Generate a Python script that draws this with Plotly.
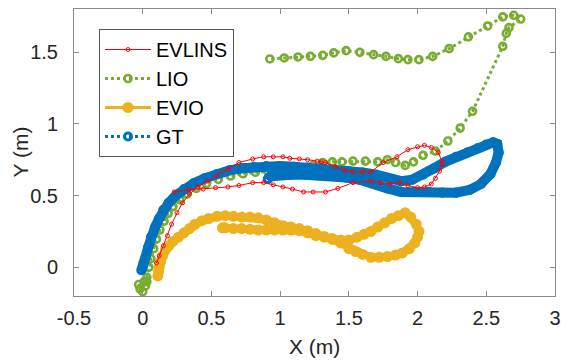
import plotly.graph_objects as go

# ---------------- data ----------------
gt_x = [-0.01, 0.0, 0.005, 0.02, 0.04, 0.06, 0.09, 0.12, 0.15, 0.19, 0.24, 0.30, 0.37, 0.45,
        0.54, 0.63, 0.72, 0.81, 0.90, 1.00, 1.10, 1.20, 1.30, 1.40, 1.50, 1.60, 1.70, 1.80,
        1.88, 1.96, 2.04, 2.12, 2.20, 2.28, 2.36, 2.44, 2.50, 2.55, 2.58, 2.59, 2.57, 2.53,
        2.46, 2.38, 2.28, 2.18, 2.08, 1.98, 1.88, 1.78, 1.68, 1.58, 1.48, 1.38, 1.28, 1.18,
        1.08, 0.98, 0.93, 0.91]
gt_y = [-0.02, 0.0, 0.03, 0.07, 0.14, 0.21, 0.28, 0.34, 0.40, 0.45, 0.50, 0.545, 0.585, 0.62,
        0.65, 0.675, 0.69, 0.70, 0.705, 0.705, 0.70, 0.695, 0.69, 0.68, 0.67, 0.66, 0.645, 0.615,
        0.60, 0.61, 0.645, 0.69, 0.735, 0.77, 0.80, 0.83, 0.855, 0.87, 0.86, 0.80, 0.73, 0.65,
        0.58, 0.54, 0.52, 0.52, 0.525, 0.525, 0.525, 0.55, 0.585, 0.61, 0.625, 0.635, 0.64, 0.645,
        0.645, 0.645, 0.635, 0.615]

lio_x = [0.0, -0.03, 0.02, -0.02, 0.01, 0.03, 0.03, 0.045, 0.06, 0.08, 0.10, 0.125, 0.156, 0.185,
         0.22, 0.27, 0.322, 0.39, 0.464, 0.55, 0.64, 0.73, 0.82, 0.91, 1.00, 1.08, 1.16, 1.24,
         1.31, 1.38, 1.45, 1.53, 1.62, 1.71, 1.78, 1.84, 1.91, 1.97, 2.04, 2.13, 2.22, 2.31,
         2.40, 2.62, 2.645, 2.665, 2.75, 2.70, 2.62, 2.51, 2.37, 2.23, 2.11, 2.01, 1.93, 1.86,
         1.77, 1.68, 1.58, 1.48, 1.39, 1.31, 1.22, 1.13, 1.03, 0.925]
lio_y = [-0.17, -0.12, -0.13, -0.15, -0.10, -0.10, -0.07, 0.0, 0.06, 0.13, 0.196, 0.26, 0.322, 0.375,
         0.423, 0.47, 0.51, 0.55, 0.583, 0.612, 0.636, 0.652, 0.662, 0.668, 0.672, 0.678, 0.69, 0.71,
         0.73, 0.735, 0.735, 0.74, 0.74, 0.735, 0.75, 0.73, 0.71, 0.735, 0.78, 0.81, 0.88, 0.97,
         1.087, 1.54, 1.63, 1.67, 1.73, 1.756, 1.745, 1.682, 1.606, 1.524, 1.47, 1.447, 1.447, 1.454,
         1.47, 1.482, 1.498, 1.51, 1.494, 1.477, 1.47, 1.466, 1.459, 1.452]

evio_x = [0.11, 0.115, 0.12, 0.13, 0.145, 0.165, 0.19, 0.22, 0.26, 0.30, 0.34, 0.38, 0.43, 0.48,
          0.54, 0.60, 0.66, 0.72, 0.78, 0.84, 0.90, 0.96, 1.02, 1.08, 1.14, 1.20, 1.26, 1.32,
          1.38, 1.44, 1.50, 1.55, 1.60, 1.66, 1.72, 1.78, 1.84, 1.89, 1.94, 1.98, 2.00, 2.01,
          1.99, 1.95, 1.91, 1.86, 1.81, 1.76, 1.71, 1.66, 1.61, 1.56, 1.50, 1.44, 1.38, 1.32,
          1.26, 1.20, 1.14, 1.08, 1.02, 0.96, 0.90, 0.84, 0.78, 0.72, 0.66, 0.60, 0.58]
evio_y = [-0.06, -0.03, 0.0, 0.04, 0.08, 0.12, 0.15, 0.18, 0.21, 0.24, 0.27, 0.30, 0.325, 0.34,
          0.355, 0.36, 0.355, 0.35, 0.35, 0.345, 0.33, 0.31, 0.29, 0.28, 0.27, 0.255, 0.235, 0.215,
          0.195, 0.17, 0.13, 0.11, 0.09, 0.07, 0.07, 0.075, 0.085, 0.10, 0.13, 0.17, 0.21, 0.25,
          0.30, 0.35, 0.38, 0.36, 0.34, 0.31, 0.28, 0.25, 0.23, 0.21, 0.19, 0.19, 0.20, 0.21,
          0.22, 0.24, 0.255, 0.26, 0.26, 0.26, 0.26, 0.26, 0.265, 0.27, 0.27, 0.275, 0.275]

evl_x = [0.10, 0.12, 0.15, 0.18, 0.21, 0.25, 0.29, 0.34, 0.40, 0.47, 0.54, 0.62, 0.70, 0.80,
         0.88, 0.95, 1.02, 1.07, 1.14, 1.20, 1.27, 1.30, 1.33, 1.40, 1.47, 1.53, 1.60, 1.66,
         1.75, 1.85, 1.93, 2.00, 2.05, 2.10, 2.15, 2.18, 2.18, 2.16, 2.13, 2.10, 2.05, 2.00,
         1.93, 1.87, 1.80, 1.73, 1.66, 1.53, 1.42, 1.33, 1.24, 1.17, 1.09, 1.02, 0.95, 0.88,
         0.80, 0.70, 0.62, 0.53, 0.44, 0.335, 0.23]
evl_y = [0.03, 0.08, 0.15, 0.22, 0.30, 0.38, 0.45, 0.51, 0.56, 0.60, 0.64, 0.68, 0.73, 0.755,
         0.77, 0.77, 0.77, 0.76, 0.755, 0.75, 0.74, 0.735, 0.73, 0.70, 0.675, 0.665, 0.665, 0.665,
         0.73, 0.77, 0.82, 0.84, 0.85, 0.835, 0.80, 0.735, 0.715, 0.67, 0.62, 0.58, 0.56, 0.555,
         0.57, 0.59, 0.58, 0.59, 0.60, 0.59, 0.55, 0.525, 0.525, 0.525, 0.545, 0.56, 0.575, 0.59,
         0.59, 0.57, 0.56, 0.555, 0.545, 0.54, 0.525]

x_ticks = [-0.5, 0, 0.5, 1, 1.5, 2, 2.5, 3]
y_ticks = [0, 0.5, 1, 1.5]

RED = "#FF0000"
GREEN = "#77AC30"
YELLOW = "#EDB120"
BLUE = "#0072BD"
TXT = "#262626"
AX = "#8a8a8a"
FONT = "Liberation Sans, Arial, sans-serif"

fig = go.Figure()

# LIO (bottom layer)
fig.add_trace(go.Scatter(
    x=lio_x, y=lio_y, name="LIO", mode="lines+markers", legendrank=2,
    line=dict(color=GREEN, width=3, dash="dot"),
    marker=dict(symbol="circle-open", size=7, color=GREEN, line=dict(width=2.6, color=GREEN)),
))

# EVIO
fig.add_trace(go.Scatter(
    x=evio_x, y=evio_y, mode="lines", showlegend=False, hoverinfo="skip",
    line=dict(color=YELLOW, width=8),
))
fig.add_trace(go.Scatter(
    x=evio_x, y=evio_y, name="EVIO", mode="lines+markers", legendrank=3,
    line=dict(color=YELLOW, width=3),
    marker=dict(symbol="circle", size=11, color=YELLOW),
))

# GT
fig.add_trace(go.Scatter(
    x=gt_x, y=gt_y, mode="lines", showlegend=False, hoverinfo="skip",
    line=dict(color=BLUE, width=10),
))
fig.add_trace(go.Scatter(
    x=gt_x, y=gt_y, name="GT", mode="lines+markers", legendrank=4,
    line=dict(color=BLUE, width=3, dash="dot"),
    marker=dict(symbol="circle-open", size=7, color=BLUE, line=dict(width=3.2, color=BLUE)),
))

# EVLINS (top layer)
fig.add_trace(go.Scatter(
    x=evl_x, y=evl_y, name="EVLINS", mode="lines+markers", legendrank=1,
    line=dict(color=RED, width=1),
    marker=dict(symbol="circle-open", size=4, color=RED, line=dict(width=1, color=RED)),
))

axis_common = dict(
    showline=True, linecolor=AX, linewidth=1, mirror="ticks",
    ticks="inside", ticklen=5, tickcolor=AX, tickwidth=1,
    showgrid=False, zeroline=False, automargin=False,
    tickfont=dict(family=FONT, size=20, color=TXT),
)

L, R, T, B = 74, 6, 9, 64
PW, PH = 561 - L - R, 360 - T - B

fig.update_layout(
    width=561, height=360,
    margin=dict(l=L, r=R, t=T, b=B),
    paper_bgcolor="white", plot_bgcolor="white",
    font=dict(family=FONT, size=20, color=TXT),
    xaxis=dict(range=[-0.5, 3], tickvals=x_ticks, ticktext=[f"{v:g}" for v in x_ticks],
               ticklabelstandoff=4, **axis_common),
    yaxis=dict(range=[-0.2, 1.8], tickvals=y_ticks, ticktext=[f"{v:g}" for v in y_ticks],
               ticklabelstandoff=11, **axis_common),
    legend=dict(x=(99 - L) / PW, y=1 - (29 - T) / PH, xanchor="left", yanchor="top",
                bgcolor="white", bordercolor="#555555", borderwidth=1,
                font=dict(family=FONT, size=20, color="black"), traceorder="normal",
                itemwidth=46, tracegroupgap=0),
    annotations=[
        dict(text="X (m)", xref="paper", yref="paper", x=0.5, y=-(359 - (T + PH)) / PH,
             xanchor="center", yanchor="bottom", showarrow=False, borderpad=0,
             font=dict(family=FONT, size=21, color=TXT)),
        dict(text="Y (m)", xref="paper", yref="paper", x=-(L - 20) / PW, y=0.5,
             xanchor="center", yanchor="middle", textangle=-90, showarrow=False,
             font=dict(family=FONT, size=21, color=TXT)),
    ],
    showlegend=True,
)

fig.write_html("out.html", config={"displayModeBar": False},
               post_script="document.body.style.margin='0px';")
